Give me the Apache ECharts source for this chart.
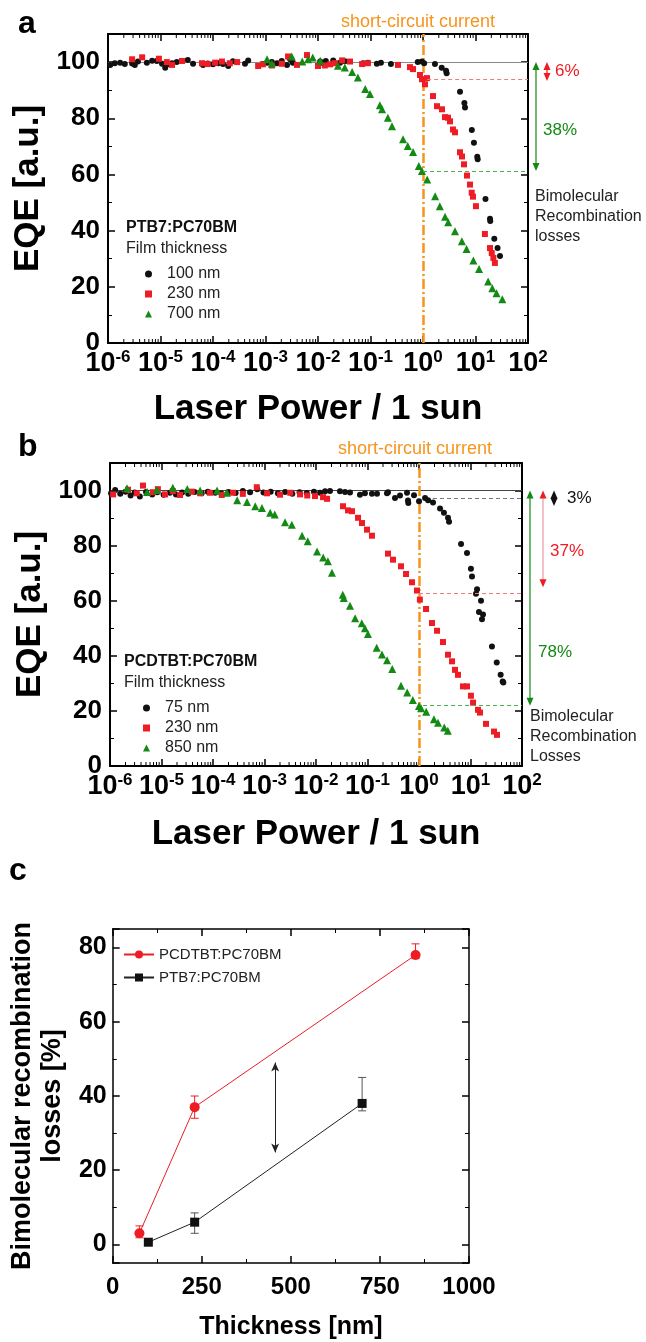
<!DOCTYPE html>
<html>
<head>
<meta charset="utf-8">
<script src="https://cdn.jsdelivr.net/npm/echarts@6/dist/echarts.min.js"></script>
<style>
  html, body { margin: 0; padding: 0; background: #fff; }
  #chart { width: 646px; height: 1342px; }
</style>
</head>
<body>
<div id="chart"></div>
<script>
// ---- panel a: PTB7:PC70BM, EQE vs laser power ----
const a100X = [1.10e-6, 1.35e-6, 1.70e-6, 2.09e-6, 2.88e-6, 3.24e-6, 3.72e-6, 5.50e-6, 6.92e-6, 8.51e-6,
  1.07e-5, 1.23e-5, 1.38e-5, 1.66e-5, 2.04e-5, 3.31e-5, 4.17e-5, 6.46e-5, 7.94e-5, 1.00e-4,
  1.26e-4, 1.55e-4, 1.95e-4, 2.40e-4, 4.07e-4, 4.68e-4, 8.91e-4, 1.07e-3, 1.32e-3, 1.66e-3,
  2.04e-3, 2.57e-3, 2.95e-3, 3.31e-3, 1.10e-2, 1.26e-2, 1.41e-2, 1.95e-2, 2.63e-2, 3.24e-2,
  7.24e-2, 8.91e-2, 0.132, 0.158, 0.245, 0.794, 0.955, 1.05, 1.69, 2.27,
  2.75, 2.82, 5.07, 6.14, 6.31, 8.51, 9.33, 10.8, 11.0, 15.5,
  18.9, 19.1, 22.8, 26.3, 29.3];
const a100Y = [99.0, 99.6, 99.8, 99.3, 99.5, 99.0, 100.2, 99.8, 100.5, 100.4,
  99.4, 98.0, 99.2, 99.6, 100.0, 100.7, 99.4, 99.0, 99.5, 99.2,
  99.6, 99.3, 98.6, 100.3, 99.4, 100.6, 99.3, 99.8, 100.0, 99.6,
  100.4, 99.0, 101.0, 99.8, 100.2, 99.6, 100.4, 100.6, 99.8, 100.3,
  99.6, 99.8, 99.4, 99.8, 99.3, 100.0, 100.2, 99.6, 99.3, 98.0,
  96.9, 96.0, 89.4, 85.4, 83.8, 75.8, 71.3, 66.3, 65.4, 51.3,
  44.2, 43.4, 37.1, 33.8, 31.0];
const a230X = [2.88e-6, 4.47e-6, 9.33e-6, 1.32e-5, 1.66e-5, 2.57e-5, 6.17e-5, 7.94e-5, 1.10e-4, 1.48e-4,
  2.09e-4, 2.88e-4, 7.24e-4, 8.91e-4, 1.32e-3, 2.04e-3, 2.69e-3, 3.98e-3, 6.17e-3, 1.00e-2,
  1.35e-2, 1.70e-2, 2.09e-2, 2.88e-2, 4.07e-2, 6.92e-2, 8.91e-2, 0.334, 0.565, 0.646,
  0.877, 0.957, 1.09, 1.19, 1.55, 1.85, 2.30, 2.62, 2.99, 3.27,
  3.72, 4.07, 5.07, 5.53, 6.04, 6.89, 7.85, 8.47, 8.95, 10.2,
  15.1, 18.9, 20.4, 21.9, 23.4];
const a230Y = [101.0, 101.7, 101.2, 100.0, 99.0, 100.4, 99.6, 99.3, 99.8, 100.2,
  99.6, 100.0, 98.6, 99.2, 98.8, 99.4, 102.0, 99.0, 102.5, 98.6,
  98.8, 99.2, 99.6, 100.6, 100.2, 99.3, 99.6, 99.0, 98.2, 97.5,
  95.4, 93.9, 92.1, 94.3, 87.9, 84.3, 83.2, 80.4, 80.2, 78.9,
  76.0, 75.0, 67.9, 66.4, 63.6, 59.6, 56.4, 53.5, 52.1, 48.7,
  38.8, 33.8, 32.0, 30.3, 28.5];
const a700X = [1.07e-3, 1.32e-3, 3.16e-3, 5.01e-3, 6.46e-3, 7.94e-3, 1.10e-2, 2.40e-2, 3.24e-2, 4.47e-2,
  5.75e-2, 7.94e-2, 9.77e-2, 0.151, 0.166, 0.214, 0.257, 0.417, 0.513, 0.646,
  0.832, 0.955, 1.20, 1.70, 2.09, 2.63, 3.02, 4.07, 5.50, 6.76,
  9.12, 11.7, 17.4, 20.9, 25.1, 32.4];
const a700Y = [101.0, 99.5, 102.0, 100.2, 101.0, 101.6, 100.5, 98.7, 98.1, 96.5,
  94.5, 90.4, 88.6, 84.6, 83.2, 80.2, 77.2, 72.5, 70.1, 68.0,
  63.0, 61.2, 58.2, 52.2, 48.7, 44.9, 43.0, 39.8, 36.2, 33.5,
  29.4, 26.3, 21.9, 19.5, 17.7, 15.6];
const aLossLevel = [94, 61.2];
const aLossText = ['6%', '38%'];

// ---- panel b: PCDTBT:PC70BM ----
const b75X = [1.05e-6, 1.26e-6, 1.58e-6, 2.00e-6, 2.51e-6, 3.02e-6, 3.80e-6, 5.01e-6, 6.61e-6, 8.32e-6,
  1.10e-5, 1.45e-5, 1.91e-5, 2.51e-5, 3.31e-5, 4.37e-5, 6.03e-5, 7.94e-5, 1.10e-4, 1.45e-4,
  2.00e-4, 2.75e-4, 3.80e-4, 5.25e-4, 7.24e-4, 9.55e-4, 1.32e-3, 1.82e-3, 2.51e-3, 3.47e-3,
  4.79e-3, 6.61e-3, 9.12e-3, 1.20e-2, 1.50e-2, 1.87e-2, 2.92e-2, 3.66e-2, 4.57e-2, 7.14e-2,
  8.91e-2, 0.122, 0.153, 0.239, 0.250, 0.342, 0.428, 0.585, 0.611, 0.620,
  0.800, 1.00, 1.31, 1.50, 1.87, 2.56, 3.05, 3.66, 3.83, 6.55,
  8.55, 10.2, 10.7, 13.4, 12.8, 16.0, 14.6, 17.5, 16.7, 26.1,
  32.3, 38.5, 42.2, 43.4];
const b75Y = [99.0, 100.2, 98.8, 99.6, 98.2, 99.3, 97.8, 99.5, 98.6, 99.4,
  98.5, 99.2, 98.6, 99.3, 98.8, 99.5, 99.0, 99.6, 99.2, 98.9,
  99.5, 99.1, 99.8, 99.4, 100.5, 99.3, 99.6, 99.0, 99.5, 98.8,
  99.4, 99.1, 99.6, 99.2, 99.7, 99.8, 99.7, 99.5, 99.3, 98.5,
  99.0, 98.8, 98.8, 99.0, 99.4, 97.3, 98.2, 99.2, 96.4, 95.5,
  98.3, 96.1, 97.3, 96.5, 95.7, 93.5, 91.9, 90.1, 88.7, 80.6,
  77.3, 71.6, 68.8, 64.2, 62.5, 60.0, 55.9, 55.0, 53.3, 43.4,
  37.6, 33.1, 30.7, 30.3];
const b230X = [1.15e-6, 2.24e-6, 3.31e-6, 4.37e-6, 6.76e-6, 8.51e-6, 1.17e-5, 1.66e-5, 2.29e-5, 3.89e-5,
  5.62e-5, 8.71e-5, 1.48e-4, 2.45e-4, 3.80e-4, 7.08e-4, 1.12e-3, 2.00e-3, 3.16e-3, 4.90e-3,
  6.76e-3, 9.55e-3, 1.37e-2, 1.64e-2, 3.34e-2, 4.18e-2, 5.00e-2, 6.55e-2, 7.82e-2, 9.77e-2,
  0.122, 0.250, 0.313, 0.447, 0.560, 0.731, 0.914, 1.04, 1.37, 1.79,
  2.24, 2.92, 3.66, 4.38, 5.00, 5.71, 7.14, 8.55, 10.2, 11.2,
  14.0, 15.3, 20.0, 28.6, 32.7];
const b230Y = [98.6, 100.3, 99.0, 101.8, 99.4, 100.5, 98.6, 99.8, 98.4, 99.6,
  99.0, 99.2, 98.4, 99.2, 98.8, 101.2, 99.0, 98.5, 99.2, 98.6,
  98.2, 98.0, 97.6, 97.0, 94.3, 92.8, 92.5, 90.1, 88.2, 85.8,
  83.6, 77.1, 74.9, 72.5, 69.7, 66.7, 63.7, 60.4, 57.0, 51.9,
  49.1, 45.0, 40.4, 38.0, 34.9, 33.1, 28.9, 28.9, 25.5, 23.0,
  20.4, 19.4, 15.3, 12.5, 11.3];
const b850X = [2.14e-6, 5.25e-6, 8.13e-6, 1.66e-5, 3.16e-5, 5.62e-5, 1.20e-4, 1.86e-4, 2.95e-4, 4.57e-4,
  6.61e-4, 8.91e-4, 1.29e-3, 1.58e-3, 2.51e-3, 3.39e-3, 5.37e-3, 6.92e-3, 1.05e-2, 1.38e-2,
  1.70e-2, 2.04e-2, 3.31e-2, 3.47e-2, 4.57e-2, 5.75e-2, 7.76e-2, 8.91e-2, 0.102, 0.151,
  0.191, 0.240, 0.302, 0.447, 0.589, 0.759, 1.00, 1.10, 1.38, 1.95,
  2.34, 3.09, 3.63];
const b850Y = [100.8, 99.5, 100.2, 101.0, 100.6, 100.0, 100.0, 99.2, 96.5, 95.8,
  94.3, 93.7, 91.9, 91.3, 88.5, 87.6, 83.6, 81.6, 77.9, 75.7,
  74.3, 70.2, 62.2, 61.0, 58.2, 53.6, 51.8, 50.0, 47.9, 42.9,
  40.5, 38.4, 35.2, 29.1, 26.7, 24.0, 21.8, 21.0, 19.7, 17.0,
  15.7, 14.0, 12.8];
const bLossLevel = [97.3, 62.7, 21.9];
const bLossText = ['3%', '37%', '78%'];

// ---- panel c: losses vs thickness ----
const pcdtbtThick = [75, 230, 850];
const pcdtbtLoss = [3, 37, 78];
const pcdtbtLow = [1.8, 34, 77];
const pcdtbtHigh = [5, 40, 81];
const ptb7Thick = [100, 230, 700];
const ptb7Loss = [0.6, 6, 38];
const ptb7Low = [0.6, 3, 36];
const ptb7High = [0.6, 8.5, 45];
const cArrow = [[456, 49], [456, 24.8]];

// log-axis minor tick values (2..9 in every decade of 1e-6 .. 1e2)
const logMinor = [];
for (let e = -6; e < 2; e++) for (let m = 2; m <= 9; m++) logMinor.push(+(m + 'e' + e));

const FONT = '"Liberation Sans", Arial, sans-serif';
const RED = '#ee1c24';
const GREEN = '#138a13';
const ORANGE = '#f7941d';
const zip = (xs, ys) => xs.map((x, i) => [x, ys[i]]);

const chart = echarts.init(document.getElementById('chart'));

function logAxis(grid, pos, name, gap) {
  const main = pos === 'bottom';
  return {
    type: 'log', logBase: 10, gridIndex: grid, position: pos, min: 1e-6, max: 100,
    axisLine: { show: true, onZero: false, lineStyle: { color: '#000', width: 2 } },
    axisTick: { show: true, inside: true, length: 7, lineStyle: { color: '#000', width: 1.5 } },
    minorTick: { show: false },
    splitLine: { show: false },
    axisLabel: main ? {
      margin: 6,
      formatter: v => '{b|10}{s|' + Math.round(Math.log10(v)) + '}',
      rich: {
        b: { fontSize: 27, fontWeight: 'bold', fontFamily: FONT, color: '#000', lineHeight: 30 },
        s: { fontSize: 17, fontWeight: 'bold', fontFamily: FONT, color: '#000', lineHeight: 17, verticalAlign: 'top' },
      },
    } : { show: false },
    name: main ? name : '', nameLocation: 'middle', nameGap: gap,
    nameTextStyle: { fontSize: 35, fontWeight: 'bold', fontFamily: FONT, color: '#000' },
  };
}

function valAxis(grid, pos, opt) {
  const main = pos === 'left' || pos === 'bottom';
  return Object.assign({
    type: 'value', gridIndex: grid, position: pos,
    axisLine: { show: true, onZero: false, lineStyle: { color: '#000', width: 2 } },
    axisTick: { show: true, inside: true, length: 7, lineStyle: { color: '#000', width: 1.5 } },
    minorTick: { show: true, splitNumber: 2, length: 4, lineStyle: { color: '#000', width: 1 } },
    splitLine: { show: false },
  }, opt, main ? {} : { axisLabel: { show: false }, name: '' });
}

const eqeLabel = { margin: 8, fontSize: 26, fontWeight: 'bold', fontFamily: FONT, color: '#000', showMaxLabel: false };
const eqeName = { fontSize: 35, fontWeight: 'bold', fontFamily: FONT, color: '#000' };

function errRender(color) {
  return function (params, api) {
    const x = api.value(0);
    const lo = api.coord([x, api.value(1)]);
    const hi = api.coord([x, api.value(2)]);
    const st = { stroke: color, lineWidth: 1 };
    return {
      type: 'group', children: [
        { type: 'line', shape: { x1: lo[0], y1: lo[1], x2: hi[0], y2: hi[1] }, style: st },
        { type: 'line', shape: { x1: lo[0] - 4, y1: lo[1], x2: lo[0] + 4, y2: lo[1] }, style: st },
        { type: 'line', shape: { x1: hi[0] - 4, y1: hi[1], x2: hi[0] + 4, y2: hi[1] }, style: st },
      ],
    };
  };
}

// minor ticks of the log axes, drawn inward on bottom and top edges
function minorTickRender(params, api) {
  const cs = params.coordSys;
  const x = api.coord([api.value(0), 50])[0];
  const st = { stroke: '#000', lineWidth: 1 };
  const b = cs.y + cs.height;
  return {
    type: 'group', children: [
      { type: 'line', shape: { x1: x, y1: b, x2: x, y2: b - 4 }, style: st },
      { type: 'line', shape: { x1: x, y1: cs.y, x2: x, y2: cs.y + 4 }, style: st },
    ],
  };
}

function hLine(level, fromX, color) {
  return [{ coord: [fromX, level], lineStyle: { color: color, width: 1, type: [4, 3] } }, { coord: [100, level] }];
}

const vertical = { xAxis: 1, lineStyle: { color: ORANGE, width: 2.5, type: [10, 3, 2, 3] } };

const scatterBase = (name, xi, yi, data, color, symbol, size) => ({
  name: name, type: 'scatter', xAxisIndex: xi, yAxisIndex: yi, data: data,
  symbol: symbol, symbolSize: size, itemStyle: { color: color, opacity: 1 }, z: 3,
});

const legendText = { fontSize: 16, lineHeight: 20, color: '#222', fontFamily: FONT, padding: [0, 0, 0, 10] };

const option = {
  animation: false,
  backgroundColor: '#fff',
  grid: [
    { left: 108, top: 34, width: 420, height: 309 },
    { left: 110, top: 463, width: 412, height: 303 },
    { left: 103, top: 929, width: 366, height: 334 },
  ],
  xAxis: [
    logAxis(0, 'bottom', 'Laser Power / 1 sun', 49),
    logAxis(0, 'top'),
    logAxis(1, 'bottom', 'Laser Power / 1 sun', 51),
    logAxis(1, 'top'),
    valAxis(2, 'bottom', {
      min: 0, max: 1000, interval: 250,
      axisLine: { show: true, onZero: false, lineStyle: { color: '#000', width: 1.5 } },
      axisLabel: { margin: 12, fontSize: 24, fontWeight: 'bold', fontFamily: FONT, color: '#000', formatter: v => String(v) },
      name: 'Thickness [nm]', nameLocation: 'middle', nameGap: 52,
      nameTextStyle: { fontSize: 25, fontWeight: 'bold', fontFamily: FONT, color: '#000' },
    }),
    valAxis(2, 'top', { min: 0, max: 1000, interval: 250, axisLine: { show: true, onZero: false, lineStyle: { color: '#000', width: 1.5 } } }),
  ],
  yAxis: [
    valAxis(0, 'left', { min: 0, max: 110, axisLabel: eqeLabel, name: 'EQE [a.u.]', nameLocation: 'middle', nameGap: 50, nameTextStyle: eqeName }),
    valAxis(0, 'right', { min: 0, max: 110 }),
    valAxis(1, 'left', { min: 0, max: 110, axisLabel: eqeLabel, name: 'EQE [a.u.]', nameLocation: 'middle', nameGap: 55, nameTextStyle: eqeName }),
    valAxis(1, 'right', { min: 0, max: 110 }),
    valAxis(2, 'left', {
      min: -5, max: 85,
      axisLine: { show: true, onZero: false, lineStyle: { color: '#000', width: 1.5 } },
      axisLabel: { margin: 6, fontSize: 25, fontWeight: 'bold', fontFamily: FONT, color: '#000', showMinLabel: false, showMaxLabel: false },
      name: 'Bimolecular recombination\nlosses [%]', nameLocation: 'middle', nameGap: 40,
      nameTextStyle: { fontSize: 27, lineHeight: 30, fontWeight: 'bold', fontFamily: FONT, color: '#000', align: 'center' },
    }),
    valAxis(2, 'right', { min: -5, max: 85, axisLine: { show: true, onZero: false, lineStyle: { color: '#000', width: 1.5 } } }),
  ],
  legend: [
    { data: ['100 nm', '230 nm', '700 nm'], orient: 'vertical', left: 140, top: 259, itemWidth: 7, itemHeight: 7, itemGap: 0, selectedMode: false, textStyle: legendText },
    { data: ['75 nm', '230 nm', '850 nm'], orient: 'vertical', left: 138, top: 693, itemWidth: 7, itemHeight: 7, itemGap: 0, selectedMode: false, textStyle: legendText },
    { data: ['PCDTBT:PC70BM', 'PTB7:PC70BM'], orient: 'vertical', left: 118, top: 938, itemWidth: 30, itemHeight: 10, itemGap: 0, selectedMode: false,
      textStyle: { fontSize: 15, lineHeight: 23, color: '#222', fontFamily: FONT } },
  ],
  series: [
    Object.assign(scatterBase('100 nm', 0, 0, zip(a100X, a100Y), '#111', 'circle', 6), {
      markLine: { silent: true, symbol: 'none', label: { show: false }, z: 2,
        data: [{ yAxis: 100, lineStyle: { color: '#8a8a8a', width: 1, type: 'solid' } }, vertical] },
    }),
    Object.assign(scatterBase('230 nm', 0, 0, zip(a230X, a230Y), RED, 'rect', 6), {
      markLine: { silent: true, symbol: 'none', label: { show: false }, data: [hLine(aLossLevel[0], 1.2, '#f07a80')] },
    }),
    Object.assign(scatterBase('700 nm', 0, 0, zip(a700X, a700Y), GREEN, 'triangle', 8), {
      markLine: { silent: true, symbol: 'none', label: { show: false }, data: [hLine(aLossLevel[1], 1.0, '#4caf50')] },
    }),
    Object.assign(scatterBase('75 nm', 2, 2, zip(b75X, b75Y), '#111', 'circle', 6), {
      markLine: { silent: true, symbol: 'none', label: { show: false }, z: 2,
        data: [{ yAxis: 100, lineStyle: { color: '#444', width: 1, type: 'solid' } }, vertical, hLine(bLossLevel[0], 1.87, '#777')] },
    }),
    Object.assign(scatterBase('230 nm', 2, 2, zip(b230X, b230Y), RED, 'rect', 6), {
      markLine: { silent: true, symbol: 'none', label: { show: false }, data: [hLine(bLossLevel[1], 1.0, '#f07a80')] },
    }),
    Object.assign(scatterBase('850 nm', 2, 2, zip(b850X, b850Y), GREEN, 'triangle', 8), {
      markLine: { silent: true, symbol: 'none', label: { show: false }, data: [hLine(bLossLevel[2], 1.2, '#4caf50')] },
    }),
    { type: 'custom', xAxisIndex: 0, yAxisIndex: 0, renderItem: minorTickRender, silent: true, z: 5,
      encode: { x: 0 }, data: logMinor.map(v => [v]) },
    { type: 'custom', xAxisIndex: 2, yAxisIndex: 2, renderItem: minorTickRender, silent: true, z: 5,
      encode: { x: 0 }, data: logMinor.map(v => [v]) },
    {
      name: 'PCDTBT:PC70BM', type: 'line', xAxisIndex: 4, yAxisIndex: 4, data: zip(pcdtbtThick, pcdtbtLoss),
      symbol: 'circle', symbolSize: 10, itemStyle: { color: RED }, lineStyle: { color: RED, width: 1 }, z: 4,
    },
    {
      name: 'PTB7:PC70BM', type: 'line', xAxisIndex: 4, yAxisIndex: 4, data: zip(ptb7Thick, ptb7Loss),
      symbol: 'rect', symbolSize: 9, itemStyle: { color: '#111' }, lineStyle: { color: '#222', width: 1 }, z: 4,
      markLine: { silent: true, symbol: ['arrow', 'arrow'], symbolSize: [6, 9], label: { show: false },
        lineStyle: { color: '#222', width: 1, type: 'solid' },
        data: [[{ coord: cArrow[0] }, { coord: cArrow[1] }]] },
    },
    {
      type: 'custom', xAxisIndex: 4, yAxisIndex: 4, renderItem: errRender(RED), z: 3,
      encode: { x: 0, y: [1, 2] },
      data: pcdtbtThick.map((t, i) => [t, pcdtbtLow[i], pcdtbtHigh[i]]),
    },
    {
      type: 'custom', xAxisIndex: 4, yAxisIndex: 4, renderItem: errRender('#555'), z: 3,
      encode: { x: 0, y: [1, 2] },
      data: ptb7Thick.map((t, i) => [t, ptb7Low[i], ptb7High[i]]),
    },
  ],
};

chart.setOption(option);

// annotations outside the plot boxes
const yA = v => chart.convertToPixel({ yAxisIndex: 0 }, v);
const yB = v => chart.convertToPixel({ yAxisIndex: 2 }, v);

function txt(x, y, s, size, color, opt) {
  opt = opt || {};
  return {
    type: 'text', x: x, y: y, silent: true,
    style: {
      text: s, fill: color, fontSize: size, fontFamily: FONT, fontWeight: opt.bold ? 'bold' : 'normal',
      align: opt.align || 'left', textAlign: opt.align || 'left',
      verticalAlign: opt.va || 'middle', textVerticalAlign: opt.va || 'middle',
      lineHeight: opt.lh,
    },
  };
}

function vArrow(x, y1, y2, lineColor, headColor) {
  const h = 8, w = 3.5;
  return [
    { type: 'line', silent: true, shape: { x1: x, y1: y1 + 3, x2: x, y2: y2 - 3 }, style: { stroke: lineColor, lineWidth: 1.2 } },
    { type: 'polygon', silent: true, shape: { points: [[x, y1], [x - w, y1 + h], [x + w, y1 + h]] }, style: { fill: headColor } },
    { type: 'polygon', silent: true, shape: { points: [[x, y2], [x - w, y2 - h], [x + w, y2 - h]] }, style: { fill: headColor } },
  ];
}

const g = [
  txt(18, 24, 'a', 32, '#000', { bold: true }),
  txt(18, 447, 'b', 32, '#000', { bold: true }),
  txt(9, 871, 'c', 32, '#000', { bold: true }),
  txt(418, 22, 'short-circuit current', 18, ORANGE, { align: 'center' }),
  txt(415, 449, 'short-circuit current', 18, ORANGE, { align: 'center' }),
  txt(126, 228, 'PTB7:PC70BM', 16, '#111', { bold: true }),
  txt(126, 249, 'Film thickness', 16, '#222'),
  txt(124, 662, 'PCDTBT:PC70BM', 16, '#111', { bold: true }),
  txt(124, 683, 'Film thickness', 16, '#222'),
  // panel a losses
  ...vArrow(536, yA(100), yA(aLossLevel[1]), GREEN, GREEN),
  ...vArrow(547, yA(100), yA(aLossLevel[0]) + 2, RED, RED),
  txt(555, (yA(100) + yA(aLossLevel[0])) / 2 + 1, aLossText[0], 17, RED),
  txt(543, 130, aLossText[1], 17, GREEN),
  txt(535, 187, 'Bimolecular\nRecombination\nlosses', 16, '#222', { va: 'top', lh: 20 }),
  // panel b losses
  ...vArrow(530, yB(100), yB(bLossLevel[2]), GREEN, GREEN),
  ...vArrow(543, yB(100), yB(bLossLevel[1]) - 6, '#e89aa2', RED),
  ...vArrow(554, yB(100), yB(bLossLevel[0]) + 8, '#111', '#111'),
  txt(567, 498, bLossText[0], 17, '#111'),
  txt(550, 551, bLossText[1], 17, RED),
  txt(538, 652, bLossText[2], 17, GREEN),
  txt(530, 707, 'Bimolecular\nRecombination\nLosses', 16, '#222', { va: 'top', lh: 20 }),
];

chart.setOption({ graphic: g });
</script>
</body>
</html>
